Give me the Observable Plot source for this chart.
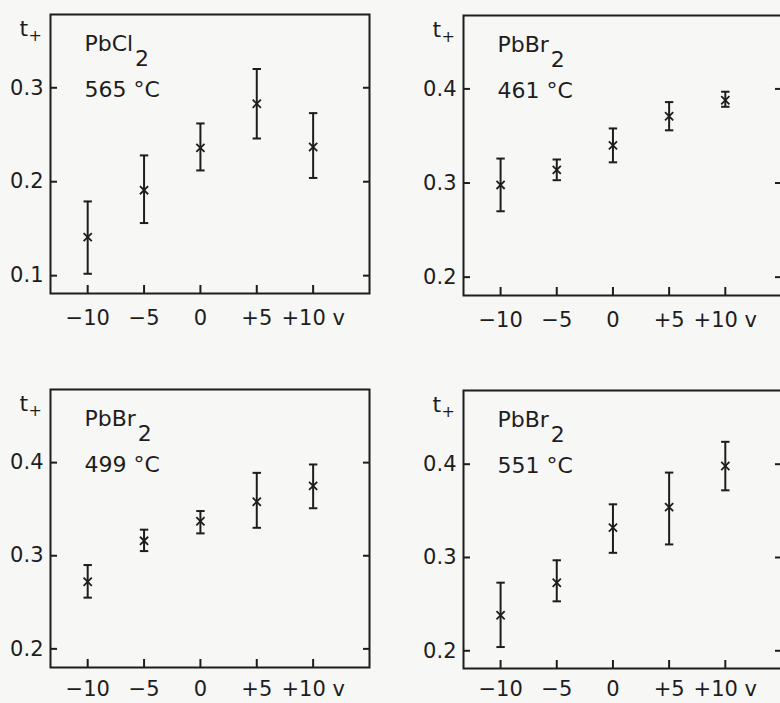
<!DOCTYPE html>
<html>
<head>
<meta charset="utf-8">
<script src="https://cdn.jsdelivr.net/npm/d3@7"></script>
<script src="https://cdn.jsdelivr.net/npm/@observablehq/plot@0.6"></script>
<style>
  html, body { margin: 0; padding: 0; background: #f7f7f6; overflow: hidden; }
  #fig { position: relative; width: 780px; height: 703px; overflow: hidden; background: #f7f7f6; }
  .panel { position: absolute; }
</style>
</head>
<body>
<div id="fig"></div>
<script>
// ---- data ----
const voltages = [-10, -5, 0, 5, 10];
const xTicks = [-10, -5, 0, 5, 10];
const xTickLabels = ["−10", "−5", "0", "+5", "+10 v"];
const compounds = ["PbCl2", "PbBr2", "PbBr2", "PbBr2"];
const temperatures = ["565 °C", "461 °C", "499 °C", "551 °C"];
const yAxisLabel = "t+";
const yTicksPbCl2 = [0.1, 0.2, 0.3];
const yTicksPbBr2 = [0.2, 0.3, 0.4];

// PbCl2, 565 °C
const tPbCl2_565 = [0.141, 0.191, 0.236, 0.283, 0.237];
const loPbCl2_565 = [0.102, 0.156, 0.212, 0.246, 0.204];
const hiPbCl2_565 = [0.179, 0.228, 0.262, 0.320, 0.273];
// PbBr2, 461 °C
const tPbBr2_461 = [0.298, 0.314, 0.340, 0.371, 0.388];
const loPbBr2_461 = [0.270, 0.303, 0.322, 0.356, 0.381];
const hiPbBr2_461 = [0.326, 0.325, 0.358, 0.386, 0.397];
// PbBr2, 499 °C
const tPbBr2_499 = [0.272, 0.316, 0.337, 0.358, 0.375];
const loPbBr2_499 = [0.255, 0.305, 0.324, 0.330, 0.351];
const hiPbBr2_499 = [0.290, 0.328, 0.348, 0.389, 0.398];
// PbBr2, 551 °C
const tPbBr2_551 = [0.238, 0.273, 0.332, 0.354, 0.398];
const loPbBr2_551 = [0.204, 0.253, 0.305, 0.314, 0.372];
const hiPbBr2_551 = [0.273, 0.297, 0.357, 0.391, 0.424];

// ---- layout ----
const INK = "#1d1d1d";
const FONT = "'DejaVu Sans', sans-serif";
const panels = [
  {t: tPbCl2_565, lo: loPbCl2_565, hi: hiPbCl2_565, compound: compounds[0], temp: temperatures[0],
   yTicks: yTicksPbCl2, yDomain: [0.081, 0.378], xPad: 25,
   left: 0, top: 0, width: 390, height: 345, mL: 50, mR: 21, mT: 14, mB: 52},
  {t: tPbBr2_461, lo: loPbBr2_461, hi: hiPbBr2_461, compound: compounds[1], temp: temperatures[1],
   yTicks: yTicksPbBr2, yDomain: [0.1805, 0.478], xPad: 25,
   left: 390, top: 0, width: 400, height: 345, mL: 73, mR: 9, mT: 15, mB: 50},
  {t: tPbBr2_499, lo: loPbBr2_499, hi: hiPbBr2_499, compound: compounds[2], temp: temperatures[2],
   yTicks: yTicksPbBr2, yDomain: [0.180, 0.4785], xPad: 22,
   left: 0, top: 345, width: 390, height: 358, mL: 50, mR: 21, mT: 44, mB: 36},
  {t: tPbBr2_551, lo: loPbBr2_551, hi: hiPbBr2_551, compound: compounds[3], temp: temperatures[3],
   yTicks: yTicksPbBr2, yDomain: [0.181, 0.479], xPad: 21,
   left: 390, top: 345, width: 400, height: 358, mL: 73, mR: 9, mT: 45, mB: 35}
];

const capSymbol = {
  draw(context, size) {
    const r = Math.sqrt(size / Math.PI);
    context.moveTo(-r, 0);
    context.lineTo(r, 0);
  }
};

const fig = document.getElementById("fig");

for (const p of panels) {
  const data = voltages.map((v, i) => ({v, t: p.t[i], lo: p.lo[i], hi: p.hi[i]}));
  const svg = Plot.plot({
    width: p.width,
    height: p.height,
    marginLeft: p.mL, marginRight: p.mR, marginTop: p.mT, marginBottom: p.mB,
    style: {background: "transparent", maxWidth: "none", fontFamily: FONT, fontSize: "21px", color: INK, overflow: "visible"},
    x: {domain: [-13.3, 15]},
    y: {domain: p.yDomain},
    marks: [
      Plot.frame({stroke: INK, strokeWidth: 2}),
      Plot.axisX({anchor: "bottom", ticks: xTicks, tickSize: -8, tickPadding: p.xPad, strokeWidth: 2,
        tickFormat: d => xTickLabels[xTicks.indexOf(d)], fontSize: 21, label: null}),
      Plot.axisY({anchor: "left", ticks: p.yTicks, tickSize: -7, tickPadding: 14, strokeWidth: 2,
        tickFormat: d3.format(".1f"), fontSize: 21, label: null}),
      Plot.axisY({anchor: "right", ticks: p.yTicks, tickSize: -7, strokeWidth: 2,
        tickFormat: () => "", label: null}),
      Plot.ruleX(data, {x: "v", y1: "lo", y2: "hi", stroke: INK, strokeWidth: 2}),
      Plot.dot(data, {x: "v", y: "lo", symbol: capSymbol, r: 4.2, stroke: INK, strokeWidth: 2, fill: "none"}),
      Plot.dot(data, {x: "v", y: "hi", symbol: capSymbol, r: 4.2, stroke: INK, strokeWidth: 2, fill: "none"}),
      Plot.dot(data, {x: "v", y: "t", symbol: "times", r: 3.8, stroke: INK, strokeWidth: 1.8}),
      Plot.text([p.compound], {text: d => d, frameAnchor: "top-left", textAnchor: "start", lineAnchor: "bottom",
        dx: 34, dy: 36, fontSize: 22, fill: INK}),
      Plot.text([p.temp], {text: d => d, frameAnchor: "top-left", textAnchor: "start", lineAnchor: "bottom",
        dx: 34, dy: 82, fontSize: 22, fill: INK}),
      Plot.text([yAxisLabel], {text: d => d, frameAnchor: "top-left", textAnchor: "start", lineAnchor: "bottom",
        dx: -31, dy: 21, fontSize: 22, fill: INK})
    ]
  });
  // typeset subscripts
  d3.select(svg).selectAll("text").each(function () {
    const s = this.textContent;
    if (/^Pb(Cl|Br)2$/.test(s)) {
      this.textContent = s.slice(0, -1);
      d3.select(this).append("tspan").attr("dx", "0.08em").attr("dy", "0.7em").text("2");
    } else if (s === yAxisLabel) {
      this.textContent = "t";
      d3.select(this).append("tspan").attr("dx", "0.02em").attr("dy", "0.35em").attr("font-size", 16).text("+");
    }
  });
  const div = document.createElement("div");
  div.className = "panel";
  div.style.left = p.left + "px";
  div.style.top = p.top + "px";
  div.style.width = p.width + "px";
  div.appendChild(svg);
  fig.appendChild(div);
}
</script>
</body>
</html>
